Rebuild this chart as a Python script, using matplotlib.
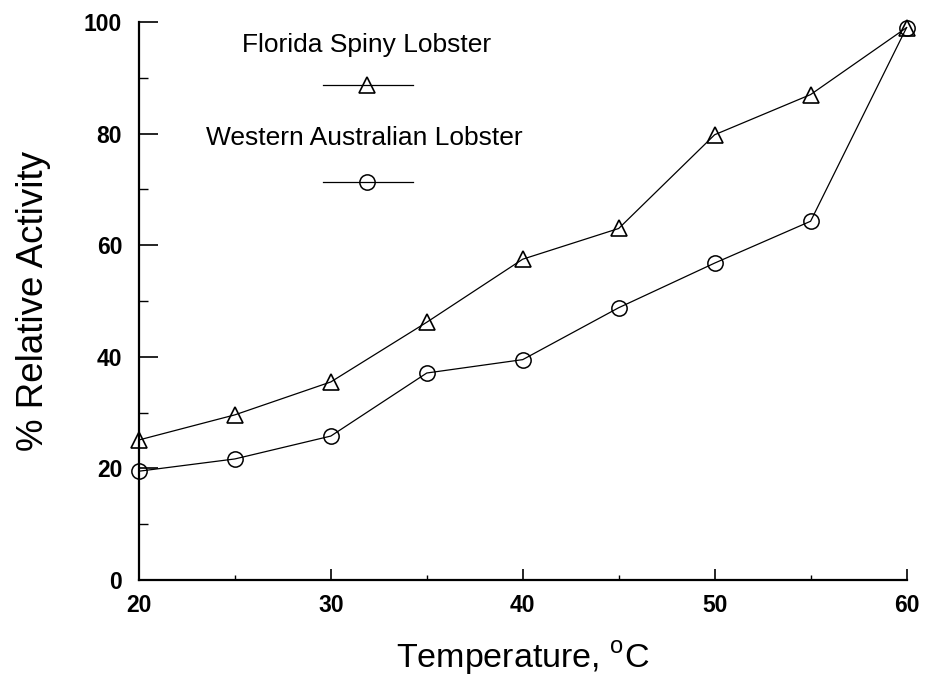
import numpy as np
import matplotlib.pyplot as plt
from matplotlib.ticker import MultipleLocator

plt.rcParams['font.family'] = ['Liberation Sans', 'DejaVu Sans']
plt.rcParams['mathtext.fontset'] = 'custom'
plt.rcParams['mathtext.rm'] = 'Liberation Sans'

# Data
temp = [20, 25, 30, 35, 40, 45, 50, 55, 60]
florida = [25.1, 29.6, 35.5, 46.2, 57.5, 63.0, 79.8, 87.0, 99.0]
western = [19.5, 21.7, 25.8, 37.1, 39.5, 48.8, 56.8, 64.3, 99.0]

fig = plt.figure(figsize=(9.26, 6.78), dpi=100)
ax = fig.add_axes([0.150, 0.1445, 0.829, 0.823])

ax.plot(temp, florida, '-', color='black', lw=0.9, marker='^', ms=12,
        mfc='none', mec='black', mew=1.2, clip_on=False)
ax.plot(temp, western, '-', color='black', lw=0.9, marker='o', ms=11,
        mfc='none', mec='black', mew=1.1, clip_on=False)

ax.set_xlim(20, 60)
ax.set_ylim(0, 100)
ax.xaxis.set_major_locator(MultipleLocator(10))
ax.xaxis.set_minor_locator(MultipleLocator(5))
ax.yaxis.set_major_locator(MultipleLocator(20))
ax.yaxis.set_minor_locator(MultipleLocator(10))

for s in ['top', 'right']:
    ax.spines[s].set_visible(False)
for s in ['left', 'bottom']:
    ax.spines[s].set_linewidth(1.6)

ax.tick_params(axis='y', which='major', direction='in', length=14, width=1.2, pad=12)
ax.tick_params(axis='y', which='minor', direction='in', length=6.5, width=1)
ax.tick_params(axis='x', which='major', direction='in', length=8, width=1.2, pad=10)
ax.tick_params(axis='x', which='minor', direction='in', length=3.5, width=1)
for lab in ax.get_xticklabels() + ax.get_yticklabels():
    lab.set_fontsize(16.5)
    lab.set_fontweight('bold')

ax.set_xlabel('Temperature, $^{\\rm o}$C', fontsize=24.5, labelpad=16)
ax.set_ylabel('% Relative Activity', fontsize=26.5, labelpad=24)

# Legend drawn in the style of the original figure
tr = ax.transAxes
ax.text(0.296, 0.959, 'Florida Spiny Lobster', transform=tr, fontsize=19,
        ha='center', va='center')
ax.plot([0.240, 0.357], [0.887, 0.887], '-', color='black', lw=0.9, transform=tr, clip_on=False)
ax.plot([0.297], [0.887], marker='^', ms=12, mfc='none', mec='black', mew=1.2,
        transform=tr, clip_on=False)
ax.text(0.293, 0.792, 'Western Australian Lobster', transform=tr, fontsize=19,
        ha='center', va='center')
ax.plot([0.240, 0.357], [0.713, 0.713], '-', color='black', lw=0.9, transform=tr, clip_on=False)
ax.plot([0.297], [0.713], marker='o', ms=11, mfc='none', mec='black', mew=1.1,
        transform=tr, clip_on=False)

fig.savefig('out.png', dpi=100)
